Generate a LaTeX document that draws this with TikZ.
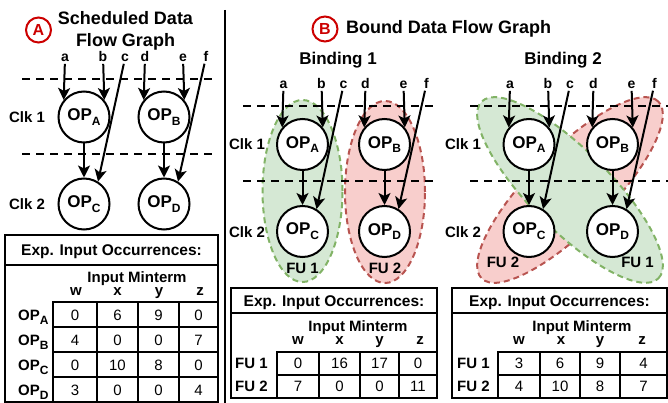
\documentclass[tikz,border=0pt]{standalone}
\usepackage{fontspec}
\setmainfont{Liberation Sans}
\usetikzlibrary{arrows.meta}
\definecolor{fuG}{HTML}{D5E8D4}
\definecolor{fuGd}{HTML}{82B366}
\definecolor{fuR}{HTML}{F8CECC}
\definecolor{fuRd}{HTML}{B85450}
\definecolor{tagred}{HTML}{CC0000}
\newcommand{\sbs}[1]{\raisebox{-0.28em}{\fontsize{12}{12}\selectfont #1}}
\newcommand{\dfg}[6]{%
  \node[op] (#1A) at (#2,#5) {OP\sbs{A}};
  \node[op] (#1B) at (#3,#5) {OP\sbs{B}};
  \node[op] (#1C) at (#2,#6) {OP\sbs{C}};
  \node[op] (#1D) at (#3,#6) {OP\sbs{D}};
  \node[lbl] (#1a) at ({#2-19},#4) {a};
  \node[lbl] (#1b) at ({#2+19},#4) {b};
  \node[lbl] (#1c) at ({#2+41},#4) {c};
  \node[lbl] (#1d) at ({#3-19},#4) {d};
  \node[lbl] (#1e) at ({#3+19},#4) {e};
  \node[lbl] (#1f) at ({#3+42},#4) {f};
  \draw[arr] (#1a) -- (#1A.140);
  \draw[arr] (#1b) -- (#1A.40);
  \draw[arr] (#1d) -- (#1B.140);
  \draw[arr] (#1e) -- (#1B.40);
  \draw[arr] (#1A) -- (#1C);
  \draw[arr] (#1B) -- (#1D);
  \draw[arr] (#1c) -- (#1C.58);
  \draw[arr] (#1f) -- (#1D.58);
}
\begin{document}
\begin{tikzpicture}[x=1pt,y=-1pt,
 op/.style={circle,draw,line width=2pt,fill=white,minimum size=51pt,inner sep=0pt,font=\fontsize{17}{19}\selectfont\bfseries},
 arr/.style={line width=2pt,-{Stealth[length=12pt,width=12pt,inset=3pt]}},
 lbl/.style={anchor=base,inner sep=1.5pt,font=\fontsize{14}{16}\selectfont\bfseries},
 clk/.style={anchor=base,inner sep=0pt,font=\fontsize{15}{17}\selectfont\bfseries},
 ttl/.style={anchor=base,inner sep=0pt,font=\fontsize{18}{22}\selectfont\bfseries},
 subttl/.style={anchor=base,inner sep=0pt,font=\fontsize{17}{20}\selectfont\bfseries},
 tagc/.style={circle,draw=tagred,line width=2pt,text=tagred,minimum size=25pt,inner sep=0pt,font=\fontsize{16}{16}\selectfont\bfseries},
 dsh/.style={line width=2pt,dash pattern=on 8pt off 6pt},
 tbl/.style={line width=2pt},
 hdr/.style={anchor=base,inner sep=0pt,font=\fontsize{15.5}{18}\selectfont\bfseries},
 bh/.style={anchor=base,inner sep=0pt,font=\fontsize{15}{17}\selectfont\bfseries},
 num/.style={anchor=base,inner sep=0pt,font=\fontsize{15}{17}\selectfont},
 rl/.style={anchor=base west,inner sep=0pt,font=\fontsize{15}{17}\selectfont\bfseries},
 fug/.style={draw=fuGd,fill=fuG,line width=2pt,dash pattern=on 6pt off 4pt},
 fur/.style={draw=fuRd,fill=fuR,line width=2pt,dash pattern=on 6pt off 4pt},
]
\useasboundingbox (0,0) rectangle (668,403);

% ---------- Panel A ----------
\node[tagc] (tagA) at (38.5,30) {A};
\node[ttl] (ttlA1) at (125.5,25) {Scheduled Data};
\node[ttl] (ttlA2) at (125.5,47) {Flow Graph};
\draw[dsh] (22,79) -- (215,79);
\draw[dsh] (22,154) -- (215,154);
\node[clk] (clkA1) at (27,122.5) {Clk 1};
\node[clk] (clkA2) at (27,209.5) {Clk 2};
\dfg{pa}{84}{164}{62}{117}{204}

\draw[line width=2pt] (224.5,10) -- (224.5,403);

% table A
\draw[tbl] (5,235) rectangle (218,402);
\draw[tbl] (5,265) -- (218,265);
\draw[tbl] (53,302) rectangle (218,402);
\foreach \cx in {97,138,179} \draw[tbl] (\cx,302) -- (\cx,402);
\foreach \cy in {327,352,377} \draw[tbl] (53,\cy) -- (218,\cy);
\node[hdr] (tAh) at (111.5,255.5) {Exp. Input Occurrences:};
\node[bh] (tAm) at (137,282.5) {Input Minterm};
\node[bh] (tAw) at (76,295.5) {w};
\node[bh] (tAx) at (117.5,295.5) {x};
\node[bh] (tAy) at (159,295.5) {y};
\node[bh] (tAz) at (200,295.5) {z};
\foreach \lab/\vw/\vx/\vy/\vz [count=\i] in {A/0/6/9/0, B/4/0/0/7, C/0/10/8/0, D/3/0/0/4} {
  \pgfmathsetmacro\yy{295+25*\i}
  \node[rl] (tAr\i) at (18,\yy) {OP\sbs{\lab}};
  \node[num] (tA\i-w) at (75,\yy) {\vw};
  \node[num] (tA\i-x) at (117.5,\yy) {\vx};
  \node[num] (tA\i-y) at (158.5,\yy) {\vy};
  \node[num] (tA\i-z) at (198.5,\yy) {\vz};
}

% ---------- Panel B ----------
\node[tagc] (tagB) at (325,29) {B};
\node[ttl] (ttlB) at (448.5,34) {Bound Data Flow Graph};
\node[subttl] (bind1) at (338,65) {Binding 1};
\node[subttl] (bind2) at (563,65) {Binding 2};

% Binding 1
\draw[fug] (302.5,191) ellipse [x radius=40pt, y radius=91pt];
\draw[fur] (385,192) ellipse [x radius=40pt, y radius=91pt];
\draw[dsh] (243,106.5) -- (435,106.5);
\draw[dsh] (243,181.5) -- (435,181.5);
\node[clk] (clkB1) at (247,150) {Clk 1};
\node[clk] (clkB2) at (247,237) {Clk 2};
\dfg{pb}{302.5}{384.5}{89}{144.5}{231.5}
\node[clk] (fu11) at (302.5,273) {FU 1};
\node[clk] (fu12) at (385,273) {FU 2};

% Binding 2
\draw[fur, rotate around={45:(570,190)}] (570,190) ellipse [x radius=125pt, y radius=40pt];
\draw[fug, rotate around={-45:(570,190)}] (570,190) ellipse [x radius=125pt, y radius=40pt];
\draw[dsh] (470,106.5) -- (668,106.5);
\draw[dsh] (470,181.5) -- (668,181.5);
\node[clk] (clkC1) at (463,150) {Clk 1};
\node[clk] (clkC2) at (463,237) {Clk 2};
\dfg{pc}{529}{612.5}{89}{144.5}{231.5}
\node[clk] (fu22) at (503,267.5) {FU 2};
\node[clk] (fu21) at (637.5,267.5) {FU 1};

% table B1
\draw[tbl] (231,288) rectangle (437,398);
\draw[tbl] (231,313) -- (437,313);
\draw[tbl] (277,352) rectangle (437,398);
\foreach \cx in {319,360,399} \draw[tbl] (\cx,352) -- (\cx,398);
\draw[tbl] (277,375) -- (437,375);
\node[hdr] (tBh) at (334,306) {Exp. Input Occurrences:};
\node[bh] (tBm) at (358,331.5) {Input Minterm};
\node[bh] (tBw) at (298,344.5) {w};
\node[bh] (tBx) at (339.5,344.5) {x};
\node[bh] (tBy) at (379.5,344.5) {y};
\node[bh] (tBz) at (420,344.5) {z};
\foreach \lab/\vw/\vx/\vy/\vz [count=\i] in {1/0/16/17/0, 2/7/0/0/11} {
  \pgfmathsetmacro\yy{345.5+23*\i}
  \node[rl] (tBr\i) at (235,\yy) {FU \lab};
  \node[num] (tB\i-w) at (298,\yy) {\vw};
  \node[num] (tB\i-x) at (339.5,\yy) {\vx};
  \node[num] (tB\i-y) at (379.5,\yy) {\vy};
  \node[num] (tB\i-z) at (418,\yy) {\vz};
}

% table B2
\draw[tbl] (452,288) rectangle (667,398);
\draw[tbl] (452,313) -- (667,313);
\draw[tbl] (498,352) rectangle (667,398);
\foreach \cx in {540,580,620} \draw[tbl] (\cx,352) -- (\cx,398);
\draw[tbl] (498,375) -- (667,375);
\node[hdr] (tCh) at (559.5,306) {Exp. Input Occurrences:};
\node[bh] (tCm) at (582,331.5) {Input Minterm};
\node[bh] (tCw) at (519,344.5) {w};
\node[bh] (tCx) at (561,344.5) {x};
\node[bh] (tCy) at (600,344.5) {y};
\node[bh] (tCz) at (642,344.5) {z};
\foreach \lab/\vw/\vx/\vy/\vz [count=\i] in {1/3/6/9/4, 2/4/10/8/7} {
  \pgfmathsetmacro\yy{345.5+23*\i}
  \node[rl] (tCr\i) at (457,\yy) {FU \lab};
  \node[num] (tC\i-w) at (519,\yy) {\vw};
  \node[num] (tC\i-x) at (560,\yy) {\vx};
  \node[num] (tC\i-y) at (600,\yy) {\vy};
  \node[num] (tC\i-z) at (643.5,\yy) {\vz};
}
\end{tikzpicture}
\end{document}
